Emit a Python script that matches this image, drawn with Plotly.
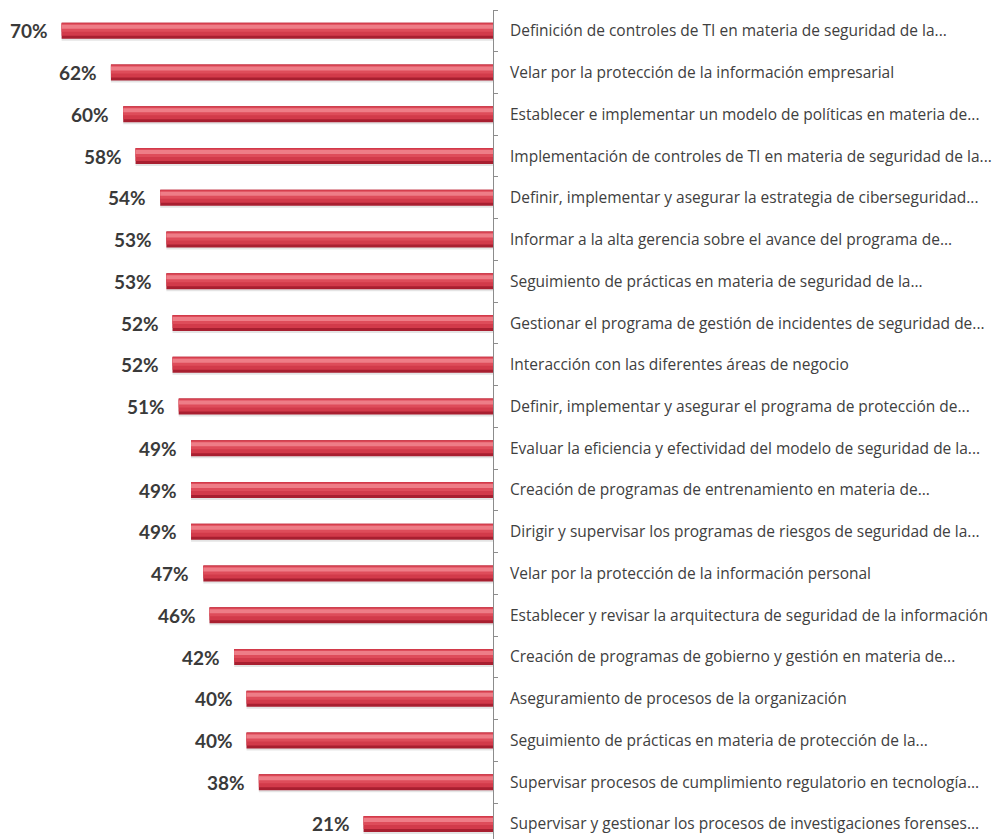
import plotly.graph_objects as go

# Responsabilidades del área de seguridad (porcentaje de respuestas)
labels = [
    "Definición de controles de TI en materia de seguridad de la...",
    "Velar por la protección de la información empresarial",
    "Establecer e implementar un modelo de políticas en materia de...",
    "Implementación de controles de TI en materia de seguridad de la...",
    "Definir, implementar y asegurar la estrategia de ciberseguridad...",
    "Informar a la alta gerencia sobre el avance del programa de...",
    "Seguimiento de prácticas en materia de seguridad de la...",
    "Gestionar el programa de gestión de incidentes de seguridad de...",
    "Interacción con las diferentes áreas de negocio",
    "Definir, implementar y asegurar el programa de protección de...",
    "Evaluar la eficiencia y efectividad del modelo de seguridad de la...",
    "Creación de programas de entrenamiento en materia de...",
    "Dirigir y supervisar los programas de riesgos de seguridad de la...",
    "Velar por la protección de la información personal",
    "Establecer y revisar la arquitectura de seguridad de la información",
    "Creación de programas de gobierno y gestión en materia de...",
    "Aseguramiento de procesos de la organización",
    "Seguimiento de prácticas en materia de protección de la...",
    "Supervisar procesos de cumplimiento regulatorio en tecnología...",
    "Supervisar y gestionar los procesos de investigaciones forenses...",
]
values = [70, 62, 60, 58, 54, 53, 53, 52, 52, 51, 49, 49, 49, 47, 46, 42, 40, 40, 38, 21]

n = len(labels)
pos = [n - 1 - i for i in range(n)]  # first item at the top

ROW_PX = 41.74           # pixel height of one category row
def u(px):
    return px / ROW_PX   # pixels -> category units

fig = go.Figure()

# Cylinder look: soft shadow, dark body, mid tone, top highlight
layers = [
    dict(off=-10, h=5, color="rgba(120,120,120,0.20)"),
    dict(off=-8, h=16, color="#a81f30"),
    dict(off=-5, h=13, color="#d23a4a"),
    dict(off=-1, h=8, color="#de4c5a"),
    dict(off=2, h=4, color="#ee7d87"),
]
for ly in layers:
    fig.add_trace(go.Bar(
        x=values, y=pos, orientation="h",
        width=u(ly["h"]), offset=u(ly["off"]),
        marker=dict(color=ly["color"], line=dict(width=0)),
        hoverinfo="skip", showlegend=False,
    ))

# Boundary ticks on a companion axis
fig.add_trace(go.Scatter(x=[None], y=[None], yaxis="y2", showlegend=False))

for v, p in zip(values, pos):
    fig.add_annotation(
        x=v, y=p, text=f"{v}%", showarrow=False,
        xanchor="right", yanchor="middle", xshift=-12,
        font=dict(family="Lato", size=19, color="#3a3a3a", weight="bold"),
    )

yr = [-0.36, n - 0.5]
fig.update_layout(
    width=1005, height=839,
    margin=dict(l=0, r=512, t=10, b=0),
    paper_bgcolor="white", plot_bgcolor="white",
    barmode="overlay",
    xaxis=dict(range=[80, 0], visible=False, fixedrange=True),
    yaxis=dict(
        range=yr, side="right", tickmode="array", tickvals=pos, ticktext=labels,
        ticks="", showline=False, showgrid=False, zeroline=False,
        ticklabelstandoff=16,
        tickfont=dict(family="Open Sans", size=15.5, color="#404040"),
    ),
    yaxis2=dict(
        range=yr, overlaying="y", side="right", anchor="x",
        tickmode="array", tickvals=[k - 0.5 for k in range(n + 1)],
        ticks="outside", ticklen=4, tickcolor="#8c8c8c", tickwidth=1,
        showticklabels=False, showline=True, linecolor="#8c8c8c", linewidth=1,
        showgrid=False, zeroline=False,
    ),
)

fig.write_html("out.html")
